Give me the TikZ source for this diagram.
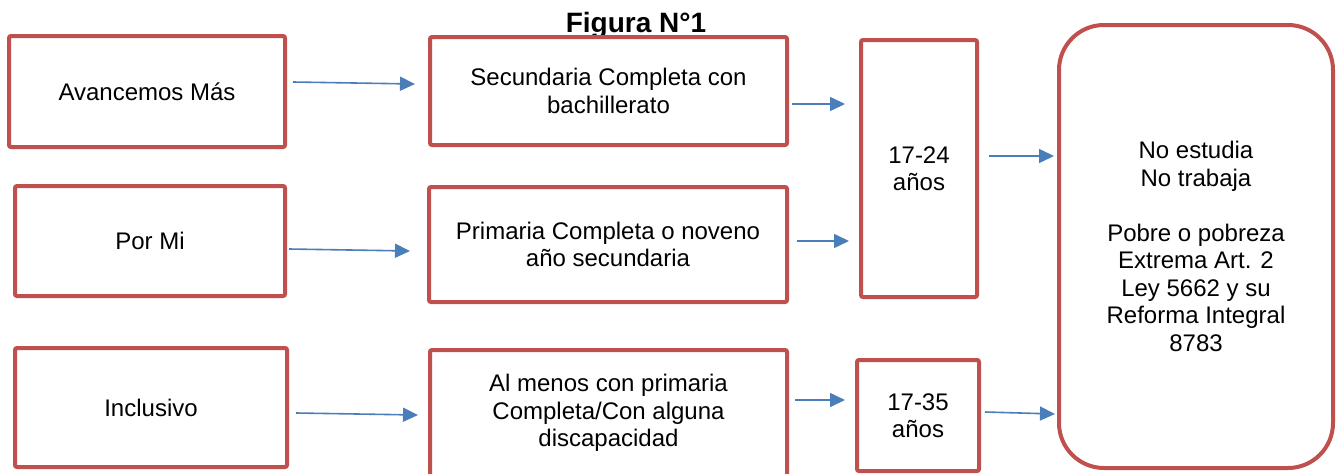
\documentclass[tikz,border=0pt]{standalone}
\usepackage{fontspec}
\setmainfont{Liberation Sans}
\usetikzlibrary{arrows.meta}
\definecolor{rojo}{HTML}{C0504D}
\definecolor{azul}{HTML}{4A7EBB}
\tikzset{>={Triangle[length=15pt, width=14pt]}}
\tikzset{
    caja/.style={draw=rojo, line width=4pt, rounded corners=2pt, inner sep=0pt, align=center, font=\fontsize{24}{27.5}\selectfont},
    flecha/.style={->, draw=azul, line width=1.6pt}
}

\begin{document}
\begin{tikzpicture}[x=1pt, y=-1pt]
    \useasboundingbox (0, 0) rectangle (1339, 474);
    \node[font=\bfseries\fontsize{28}{32}\selectfont, anchor=base] (titulo) at (636, 32) {Figura N°1};
    \node[caja, minimum width=276, minimum height=111] (avancemos) at (147, 91.5) {Avancemos Más};
    \node[caja, minimum width=270, minimum height=110] (pormi) at (150, 241) {Por Mi};
    \node[caja, minimum width=272, minimum height=119] (inclusivo) at (151, 407.5) {Inclusivo};
    \node[caja, minimum width=357, minimum height=108] (secundaria) at (608.5, 91) {Secundaria Completa con\\bachillerato};
    \node[caja, minimum width=358, minimum height=115] (primaria) at (608, 244.5) {Primaria Completa o noveno\\año secundaria};
    \node[caja, minimum width=357, minimum height=126] (almenos) at (608.5, 413) {Al menos con primaria\\Completa/Con alguna\\discapacidad};
    \node[caja, minimum width=116, minimum height=257] (edad1) at (919, 168.5) {17-24\\años};
    \node[caja, minimum width=122, minimum height=111] (edad2) at (918, 415.5) {17-35\\años};
    \node[caja, rounded corners=45pt, minimum width=274, minimum height=443] (perfil) at (1196, 246.5) {No estudia\\No trabaja\\[27.5pt]Pobre o pobreza\\Extrema Art. 2\\Ley 5662 y su\\Reforma Integral\\8783};
    \draw[flecha] ([shift={(6, -9.5)}]avancemos.east) -- ([shift={(-13, -7)}]secundaria.west);
    \draw[flecha] ([shift={(2, 8)}]pormi.east) -- ([shift={(-17, 6.5)}]primaria.west);
    \draw[flecha] ([shift={(7, 5.5)}]inclusivo.east) -- ([shift={(-10, 2)}]almenos.west);
    \draw[flecha] ([shift={(3, 13)}]secundaria.east) -- ([shift={(-14, -64.5)}]edad1.west);
    \draw[flecha] ([shift={(8, -3.5)}]primaria.east) -- ([shift={(-10, 72.5)}]edad1.west);
    \draw[flecha] ([shift={(6, -13)}]almenos.east) -- ([shift={(-10, -15.5)}]edad2.west);
    \draw[flecha] ([shift={(10, -12.5)}]edad1.east) -- ([shift={(-3, -90.5)}]perfil.west);
    \draw[flecha] ([shift={(4, -3.5)}]edad2.east) -- ([shift={(-2, 167.5)}]perfil.west);
\end{tikzpicture}
\end{document}
